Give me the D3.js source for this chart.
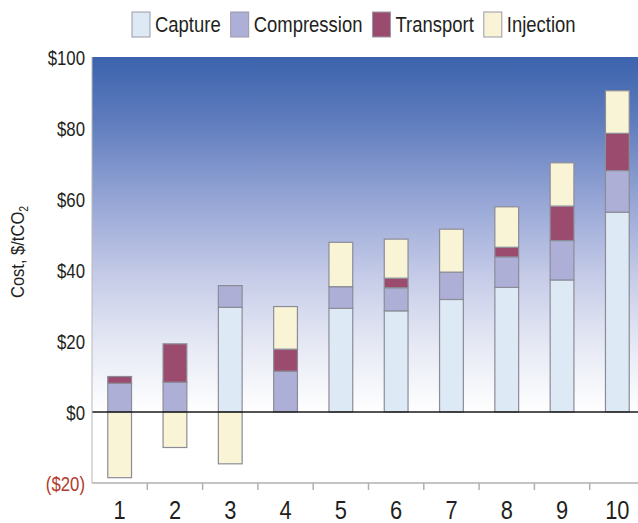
<!DOCTYPE html>
<html>
<head>
<meta charset="utf-8">
<script src="https://cdn.jsdelivr.net/npm/d3@7"></script>
<style>
  body { margin: 0; background: #fff; }
  svg text { font-family: "Liberation Sans", sans-serif; fill: #231f20; }
</style>
</head>
<body>
<svg width="638" height="523"></svg>
<script>
// data ($/tCO2)
const cases = ['1', '2', '3', '4', '5', '6', '7', '8', '9', '10'];
const capture     = [0, 0, 29.5, 0, 29.2, 28.5, 31.7, 35.1, 37.2, 56.3];
const compression = [8.1, 8.4, 6.1, 11.5, 6.1, 6.5, 7.7, 8.6, 11.1, 11.7];
const transport   = [1.9, 10.8, 0, 6.2, 0, 2.7, 0, 2.7, 9.7, 10.5];
const injection   = [-18.5, -10, -14.6, 12, 12.5, 11, 12.1, 11.4, 12.2, 12];
const seriesNames = ['Capture', 'Compression', 'Transport', 'Injection'];
const yTicks = [-20, 0, 20, 40, 60, 80, 100];

const colors = {
  Capture: '#dde9f4',
  Compression: '#aeafd7',
  Transport: '#9b4b6d',
  Injection: '#f8f4d5'
};

const rows = cases.map((c, i) => ({
  case: c,
  Capture: capture[i],
  Compression: compression[i],
  Transport: transport[i],
  Injection: injection[i]
}));

const svg = d3.select('svg');
const W = 638;
const margin = { left: 92, top: 57, bottom: 483 };
// the original type is a condensed face, so text is squeezed sideways
const squeeze = 0.84;

const x = d3.scaleBand()
  .domain(cases)
  .range([margin.left, 645])
  .paddingInner(0.57)
  .paddingOuter(0.285);

const y = d3.scaleLinear()
  .domain([-20, 100])
  .range([margin.bottom, margin.top]);

// background gradient above the zero line
const defs = svg.append('defs');
const grad = defs.append('linearGradient')
  .attr('id', 'bg')
  .attr('gradientUnits', 'userSpaceOnUse')
  .attr('x1', 0).attr('x2', 0)
  .attr('y1', y(100)).attr('y2', y(0));
[[0, '#3b63ad'], [0.18, '#5f7cbd'], [0.4, '#95a5d5'], [0.62, '#c6cce8'], [0.82, '#e7eaf5'], [1, '#ffffff']]
  .forEach(([o, c]) => grad.append('stop').attr('offset', o).attr('stop-color', c));

svg.append('rect')
  .attr('x', margin.left)
  .attr('y', y(100))
  .attr('width', W - margin.left)
  .attr('height', y(0) - y(100))
  .attr('fill', 'url(#bg)');

// stacked bars
const stack = d3.stack()
  .keys(seriesNames)
  .offset(d3.stackOffsetDiverging);
const layers = stack(rows);

svg.append('g')
  .selectAll('g')
  .data(layers)
  .join('g')
  .attr('fill', d => colors[d.key])
  .selectAll('rect')
  .data(d => d.filter(s => s[1] !== s[0]))
  .join('rect')
  .attr('x', d => x(d.data.case))
  .attr('width', x.bandwidth())
  .attr('y', d => y(Math.max(d[0], d[1])))
  .attr('height', d => Math.abs(y(d[0]) - y(d[1])))
  .attr('stroke', '#8c8c98')
  .attr('stroke-width', 1.2);

// zero line
svg.append('line')
  .attr('x1', margin.left).attr('x2', W)
  .attr('y1', y(0)).attr('y2', y(0))
  .attr('stroke', '#1a1a1a')
  .attr('stroke-width', 1.4);

// left and bottom frame
svg.append('line')
  .attr('x1', margin.left).attr('x2', margin.left)
  .attr('y1', y(100)).attr('y2', y(-20))
  .attr('stroke', '#b8b8b8');
svg.append('line')
  .attr('x1', margin.left).attr('x2', W)
  .attr('y1', y(-20)).attr('y2', y(-20))
  .attr('stroke', '#b0b0b0')
  .attr('stroke-width', 1.5);

// tick marks between categories
const half = x.step() * x.paddingInner() / 2;
svg.append('g')
  .selectAll('line')
  .data(cases.slice(1))
  .join('line')
  .attr('x1', d => x(d) - half)
  .attr('x2', d => x(d) - half)
  .attr('y1', y(-20))
  .attr('y2', y(-20) + 7)
  .attr('stroke', '#b0b0b0')
  .attr('stroke-width', 1.5);

// category labels
svg.append('g')
  .selectAll('text')
  .data(cases)
  .join('text')
  .attr('transform', d => `translate(${x(d) + x.bandwidth() / 2},519) scale(${squeeze},1)`)
  .attr('text-anchor', 'middle')
  .attr('font-size', 26)
  .text(d => d);

// y tick labels
const money = v => v < 0 ? `($${-v})` : `$${v}`;
svg.append('g')
  .selectAll('text')
  .data(yTicks)
  .join('text')
  .attr('transform', d => `translate(85,${y(d)}) scale(0.8,1)`)
  .attr('dy', '0.36em')
  .attr('text-anchor', 'end')
  .attr('font-size', 21)
  .style('fill', d => d < 0 ? '#b23a2c' : '#231f20')
  .text(money);

// y axis title
const yt = svg.append('text')
  .attr('transform', `translate(24,252) rotate(-90) scale(0.87,1)`)
  .attr('text-anchor', 'middle')
  .attr('font-size', 19);
yt.append('tspan').text('Cost, $/tCO');
yt.append('tspan').attr('font-size', 12).attr('dy', 4).text('2');

// legend
const legend = svg.append('g').attr('transform', 'translate(132,12)');
let lx = 0;
seriesNames.forEach(name => {
  const item = legend.append('g').attr('transform', `translate(${lx},0)`);
  item.append('rect')
    .attr('width', 18).attr('height', 25)
    .attr('fill', colors[name])
    .attr('stroke', '#9a9aa6');
  const t = item.append('text')
    .attr('transform', `translate(23,20) scale(${squeeze},1)`)
    .attr('font-size', 22)
    .text(name);
  lx += 23 + t.node().getComputedTextLength() * squeeze + 10;
});
</script>
</body>
</html>
